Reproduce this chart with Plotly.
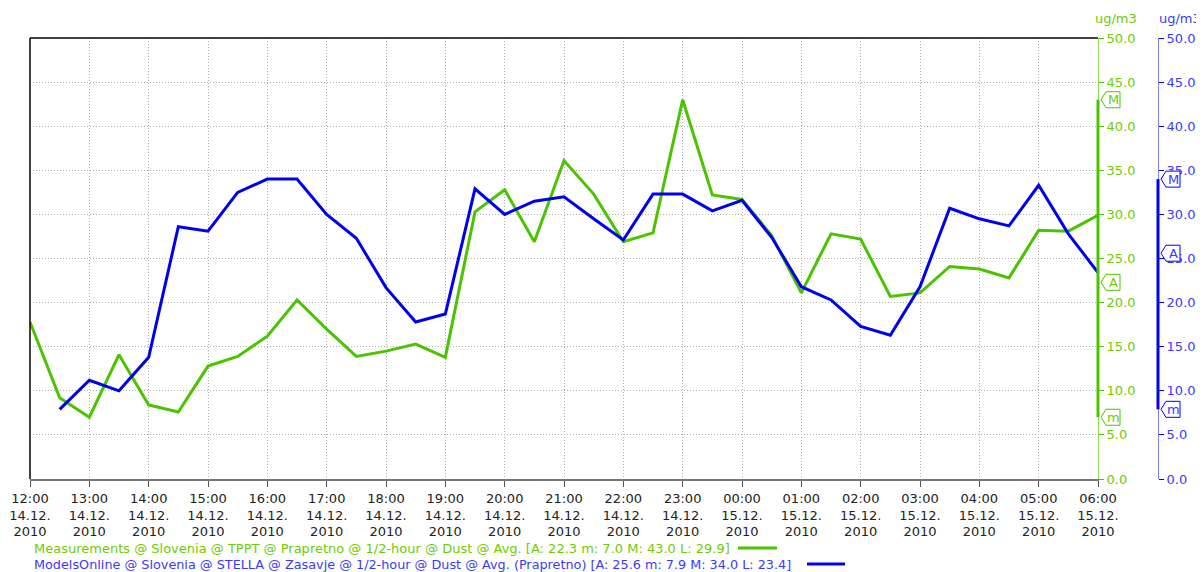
import pandas as pd
import plotly.graph_objects as go

start_time = "2010-12-14 12:00"
times = pd.date_range(start_time, periods=37, freq="30min")

measurements = [17.8, 9.2, 7.0, 14.1, 8.4, 7.6, 12.8, 13.9, 16.2, 20.3, 17.0, 13.9,
                14.5, 15.3, 13.8, 30.3, 32.8, 26.9, 36.1, 32.3, 26.9, 27.9, 43.0, 32.2,
                31.7, 27.6, 21.1, 27.8, 27.2, 20.7, 21.1, 24.1, 23.8, 22.8, 28.2, 28.1, 29.9]
models = [None, 7.9, 11.2, 10.0, 13.8, 28.6, 28.1, 32.5, 34.0, 34.0, 30.0, 27.3,
          21.7, 17.8, 18.7, 32.9, 30.0, 31.5, 32.0, 29.5, 27.1, 32.3, 32.3, 30.4,
          31.6, 27.4, 21.8, 20.3, 17.3, 16.3, 21.8, 30.7, 29.5, 28.7, 33.3, 27.8, 23.4]

meas_stats = {"A": 22.3, "m": 7.0, "M": 43.0, "L": 29.9}
model_stats = {"A": 25.6, "m": 7.9, "M": 34.0, "L": 23.4}

meas_name = ("Measurements @ Slovenia @ TPPT @ Prapretno @ 1/2-hour @ Dust @ Avg. "
             "[A: 22.3 m: 7.0 M: 43.0 L: 29.9]")
model_name = ("ModelsOnline @ Slovenia @ STELLA @ Zasavje @ 1/2-hour @ Dust @ Avg. (Prapretno) "
              "[A: 25.6 m: 7.9 M: 34.0 L: 23.4]")
unit = "ug/m3"

tick_times = pd.date_range(start_time, periods=19, freq="60min")
tick_text = [t.strftime("%H:%M") + "<br>" + t.strftime("%d.%m.") + "<br>" + t.strftime("%Y")
             for t in tick_times]

GREEN = "#4CC300"
GREEN_TXT = "#6FCC00"
GREEN_LIGHT = "#8FE050"
BLUE = "#0000F0"
BLUE_TXT = "#3A3AFF"
BLUE_LIGHT = "#8080FF"
FONT = "DejaVu Sans"

# the page body has an 8px margin: work in reference pixels, shifted by OFF
OFF = 8
W, H = 1204 - OFF, 572 - OFF
L, R_PLOT, R_AX2, T, B = 30 - OFF, 1098 - OFF, 1158 - OFF, 38 - OFF, 479 - OFF


def px(x):
    return (x - OFF - L) / (R_AX2 - L)


def py(y):
    return (B - (y - OFF)) / (B - T)


dom = (R_PLOT - L) / (R_AX2 - L)

fig = go.Figure()
fig.add_trace(go.Scatter(x=times, y=measurements, mode="lines", name=meas_name,
                         line=dict(color=GREEN, width=3), yaxis="y"))
fig.add_trace(go.Scatter(x=times, y=models, mode="lines", name=model_name,
                         line=dict(color=BLUE, width=3), yaxis="y2"))

GRID = dict(showgrid=True, gridcolor="#B0B0B0", griddash="1px,2px", gridwidth=1)

fig.update_layout(
    width=W, height=H,
    margin=dict(l=L, r=W - R_AX2, t=T, b=H - B, autoexpand=False),
    paper_bgcolor="white", plot_bgcolor="white",
    showlegend=False,
    font=dict(family=FONT, size=13, color="#222222"),
    xaxis=dict(
        domain=[0, dom], range=[times[0], times[-1]], tickvals=tick_times, ticktext=tick_text,
        ticks="outside", ticklen=6, tickcolor="#555555", showline=True, linecolor="#777777",
        linewidth=2, zeroline=False, automargin=False,
        tickfont=dict(family=FONT, size=13, color="#222222"), **GRID,
    ),
    yaxis=dict(
        range=[0, 50], dtick=5, tickformat=".1f", side="right", anchor="x",
        ticks="outside", ticklen=5, tickcolor=GREEN, showline=True, linecolor=GREEN_LIGHT,
        linewidth=1, zeroline=False, automargin=False,
        tickfont=dict(family=FONT, size=13, color=GREEN_TXT), **GRID,
    ),
    yaxis2=dict(
        range=[0, 50], dtick=5, tickformat=".1f", side="right", overlaying="y",
        anchor="free", position=1, showgrid=False,
        ticks="outside", ticklen=5, tickcolor=BLUE, showline=True, linecolor=BLUE_LIGHT,
        linewidth=1, zeroline=False, automargin=False,
        tickfont=dict(family=FONT, size=13, color=BLUE_TXT),
    ),
)

shapes = []
annotations = []
# plot border (left + top)
shapes.append(dict(type="line", xref="paper", yref="paper", x0=0, x1=0, y0=0, y1=1,
                   line=dict(color="black", width=1.5)))
shapes.append(dict(type="line", xref="paper", yref="paper", x0=0, x1=dom, y0=1, y1=1,
                   line=dict(color="black", width=1.5)))

# thick min-max range on the axes + stat markers
for xpos, yref, vals, stats, col, txtcol in [
    (dom, "y", measurements, meas_stats, GREEN, GREEN_TXT),
    (1.0, "y2", models, model_stats, BLUE, BLUE_TXT),
]:
    v = [a for a in vals if a is not None]
    shapes.append(dict(type="line", xref="paper", yref=yref, x0=xpos, x1=xpos,
                       y0=min(v), y1=max(v), line=dict(color=col, width=3)))
    for key in ["M", "A", "m"]:
        shapes.append(dict(type="path", xref="paper", yref=yref, xsizemode="pixel",
                           ysizemode="pixel", xanchor=xpos, yanchor=stats[key],
                           path="M3,0 L8,8 L22,8 L22,-8 L8,-8 Z",
                           line=dict(color=col, width=1), fillcolor="white"))
        annotations.append(dict(xref="paper", yref=yref, x=xpos, y=stats[key], text=key,
                                showarrow=False, xanchor="center", yanchor="middle",
                                xshift=15, font=dict(family=FONT, size=13, color=txtcol)))

# unit labels
annotations.append(dict(xref="paper", yref="paper", x=px(1116), y=py(18), text=unit,
                        showarrow=False, xanchor="center", yanchor="middle",
                        font=dict(family=FONT, size=13, color=GREEN_TXT)))
annotations.append(dict(xref="paper", yref="paper", x=px(1180), y=py(18), text=unit,
                        showarrow=False, xanchor="center", yanchor="middle",
                        font=dict(family=FONT, size=13, color=BLUE_TXT)))

# legend (text then line sample)
for name, col, txtcol, yy, lx0, lx1, fs in [
    (meas_name, GREEN, GREEN_TXT, 548, 738, 777, 13),
    (model_name, BLUE, BLUE_TXT, 564, 807, 845, 12.8),
]:
    annotations.append(dict(xref="paper", yref="paper", x=px(32), y=py(yy), text=name,
                            showarrow=False, xanchor="left", yanchor="middle",
                            font=dict(family=FONT, size=fs, color=txtcol)))
    shapes.append(dict(type="line", xref="paper", yref="paper", x0=px(lx0), x1=px(lx1),
                       y0=py(yy), y1=py(yy), line=dict(color=col, width=3)))

fig.update_layout(shapes=shapes, annotations=annotations)
fig.write_html("out.html")
